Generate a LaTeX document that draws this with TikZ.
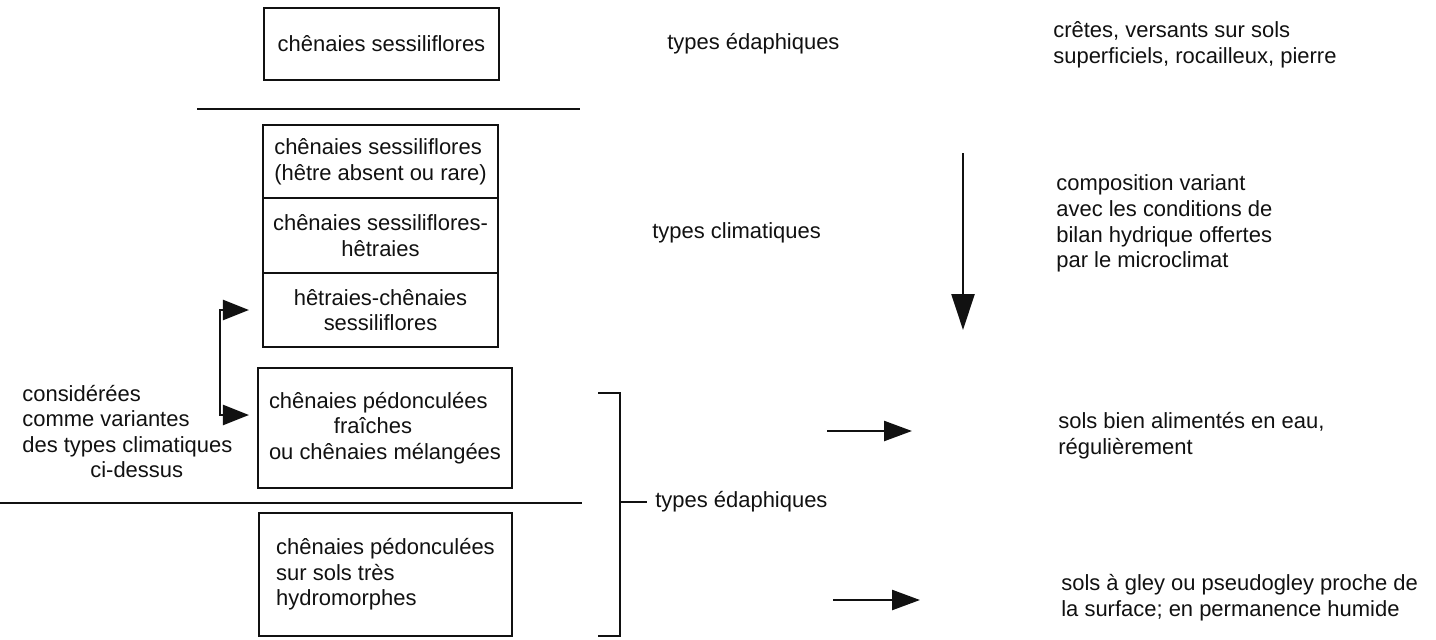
\documentclass[tikz,border=0pt]{standalone}
\usepackage{xcolor}
\usepackage{tikz}
\usetikzlibrary{arrows.meta}
\usepackage{fontspec}
\setmainfont{Liberation Sans}
\definecolor{scanblack}{HTML}{111111}
\newcommand{\diagfont}{\fontsize{12.5}{14.6}\selectfont}

\begin{document}
\begin{tikzpicture}[x=0.02cm,y=-0.02cm,
  every node/.style={font=\diagfont,text=scanblack},
  forestbox/.style={draw=scanblack,line width=1.2pt,inner sep=0pt},
  typelabel/.style={anchor=west,inner sep=0pt},
  sepline/.style={draw=scanblack,line width=1.2pt},
  bigtip/.style={-{Triangle[length=0.56cm,width=0.4cm]},draw=scanblack,line width=1.4pt},
  longtip/.style={-{Triangle[length=0.72cm,width=0.46cm]},draw=scanblack,line width=1.4pt}]
  \useasboundingbox (0,0) rectangle (1436,639);
  \node[forestbox,minimum width=4.70cm,minimum height=1.44cm] (sessil) at (381.5,44) {chênaies sessiliflores};
  \node[forestbox,align=left,minimum width=4.70cm,minimum height=1.46cm] (sessilrare) at (380.5,161.5) {chênaies sessiliflores\\(hêtre absent ou rare)};
  \node[forestbox,align=center,minimum width=4.70cm,minimum height=1.50cm] (sessilhetre) at (380.5,235.5) {chênaies sessiliflores-\\hêtraies};
  \node[forestbox,align=center,minimum width=4.70cm,minimum height=1.48cm] (hetresessil) at (380.5,310) {hêtraies-chênaies\\sessiliflores};
  \node[forestbox,align=left,minimum width=5.08cm,minimum height=2.40cm] (pedfraiche) at (385,428) {chênaies pédonculées\\\hspace*{1.3cm}fraîches\\ou chênaies mélangées};
  \node[forestbox,align=left,minimum width=5.06cm,minimum height=2.46cm] (pedhydro) at (385.5,574.5) {chênaies pédonculées\\sur sols très\\hydromorphes};
  \draw[sepline] (197,109) -- (580,109);
  \draw[sepline] (0,503) -- (582,503);
  \node[typelabel] (edaph) at (667,44) {types édaphiques};
  \node[typelabel] (clim) at (652,233) {types climatiques};
  \node[typelabel,inner xsep=0.16cm] (edaphlow) at (647,502) {types édaphiques};
  \node[typelabel,align=left] (variantes) at (22,431.5) {considérées\\comme variantes\\des types climatiques\\\hspace*{1.36cm}ci-dessus};
  \node[typelabel,align=left] (cretes) at (1053,44.5) {crêtes, versants sur sols\\superficiels, rocailleux, pierre};
  \node[typelabel,align=left] (compo) at (1056,223.5) {composition variant\\avec les conditions de\\bilan hydrique offertes\\par le microclimat};
  \node[typelabel,align=left] (solsbien) at (1058,435.5) {sols bien alimentés en eau,\\régulièrement};
  \node[typelabel,align=left] (solsgley) at (1061,597.5) {sols à gley ou pseudogley proche de\\la surface; en permanence humide};
  \coordinate (varup) at (220,310);
  \coordinate (vardown) at (220,415);
  \coordinate (brackmid) at (620,502);
  \coordinate (dryfrom) at (963,153);
  \coordinate (dryto) at (963,330);
  \coordinate (wetfrom) at (827,431);
  \coordinate (wetto) at (912,431);
  \coordinate (gleyfrom) at (833,600);
  \coordinate (gleyto) at (920,600);
  \draw[bigtip,{Triangle[length=0.52cm,width=0.4cm]}-{Triangle[length=0.52cm,width=0.4cm]},shorten <=0.26cm,shorten >=0.16cm]
    (hetresessil.west) -- (varup) -- (vardown) -- (pedfraiche.west |- vardown);
  \draw[sepline] (598,393) -| (620,636) -- (598,636);
  \draw[sepline] (brackmid) -- (edaphlow.west);
  \draw[longtip] (dryfrom) -- (dryto);
  \draw[bigtip] (wetfrom) -- (wetto);
  \draw[bigtip] (gleyfrom) -- (gleyto);
\end{tikzpicture}
\end{document}
